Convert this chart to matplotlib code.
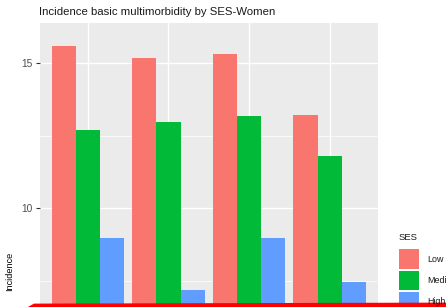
import matplotlib
matplotlib.use("Agg")
import matplotlib.pyplot as plt
import numpy as np
from matplotlib.patches import Rectangle, Polygon

groups = ["G1", "G2", "G3", "G4"]
ses_levels = ["Low", "Medium", "High"]
low = [15.60, 15.17, 15.33, 13.22]
medium = [12.70, 12.96, 13.17, 11.80]
high = [8.96, 7.16, 8.96, 7.45]
colors = ["#F8766D", "#00BA38", "#619CFF"]
yticks = [10, 15]

W, H = 446, 307
fig = plt.figure(figsize=(W / 100, H / 100), dpi=100)
fig.patch.set_facecolor("white")
plt.rcParams["font.family"] = ["Liberation Sans", "DejaVu Sans"]

def fx(px):
    return px / W

def fy(py):
    return (H - py) / H

left, right, top, bottom = 39.5, 378.0, 23.3, 520.4
ax = fig.add_axes([fx(left), fy(bottom), fx(right) - fx(left), fy(top) - fy(bottom)])
ax.set_facecolor("#EBEBEB")

x = np.arange(1, len(groups) + 1)
w = 0.3
for i, (vals, c) in enumerate(zip([low, medium, high], colors)):
    ax.bar(x + (i - 1) * w, vals, width=w, color=c, zorder=3, linewidth=0)

ymax = max(low + medium + high)
ax.set_ylim(-0.05 * ymax, ymax * 1.05)
ax.set_xlim(0.4, 4.6)
ax.set_yticks(yticks)
ax.set_yticks([7.5, 12.5], minor=True)
ax.set_xticks(x)
ax.set_xticklabels([])
ax.grid(True, which="major", color="white", linewidth=1.0, zorder=0)
ax.grid(True, which="minor", axis="y", color="white", linewidth=0.5, zorder=0)
ax.tick_params(axis="y", which="major", length=3, color="#333333", labelcolor="#4D4D4D",
               labelsize=7.3, pad=2)
ax.tick_params(axis="y", which="minor", length=0)
ax.tick_params(axis="x", length=0)
for s in ax.spines.values():
    s.set_visible(False)
ax.set_ylabel("Incidence", fontsize=6.6, color="black", labelpad=5)

fig.text(fx(39), fy(15), "Incidence basic multimorbidity by SES-Women",
         fontsize=8.2, color="#1A1A1A", ha="left", va="baseline")

# legend
fig.text(fx(398.5), fy(240), "SES", fontsize=6.8, ha="left", va="baseline", color="#1A1A1A")
key_tops = [249.3, 270.7, 292.0]
for lab, c, kt in zip(ses_levels, colors, key_tops):
    fig.patches.append(Rectangle((fx(398.5), fy(kt + 19.3)), fx(20.5), 19.3 / H,
                                 transform=fig.transFigure, facecolor=c, edgecolor="none"))
    fig.text(fx(427), fy(kt + 10), lab, fontsize=6.4, ha="left", va="center", color="#1A1A1A")

# red overlay band at bottom
fig.patches.append(Polygon([(fx(27), fy(307.5)), (fx(34), fy(303.6)), (fx(446), fy(302.6)),
                            (fx(446), fy(307.5))], closed=True, transform=fig.transFigure,
                           facecolor="#FF0000", edgecolor="none"))

fig.savefig("out.png", dpi=100)
